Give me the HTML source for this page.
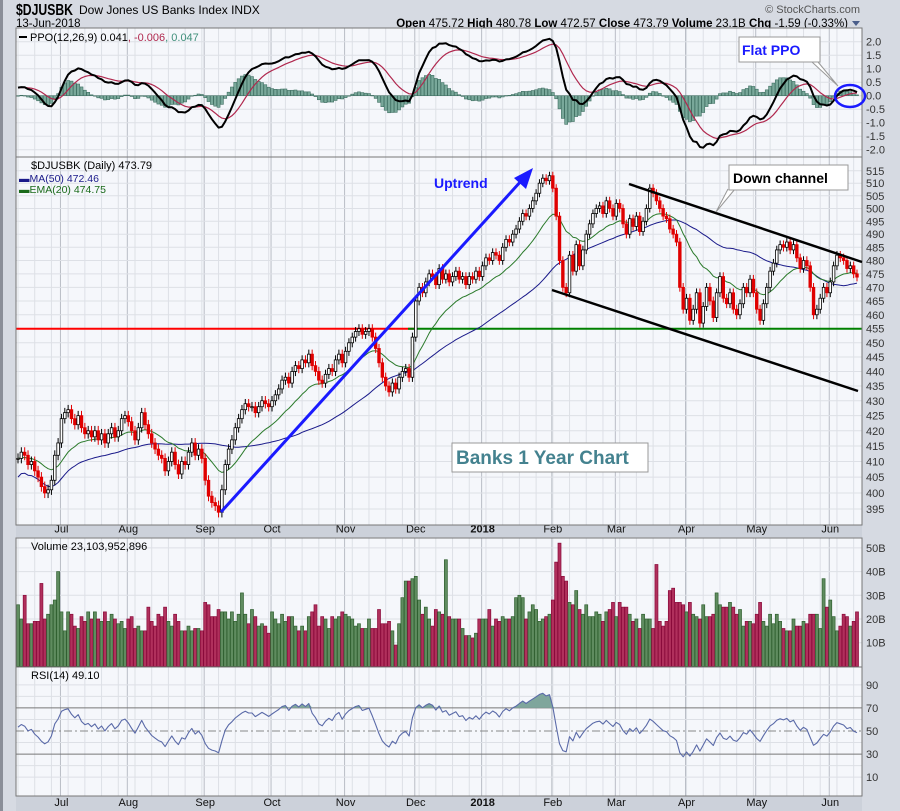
<!DOCTYPE html>
<html><head><meta charset="utf-8"><style>
html,body{margin:0;padding:0;background:#d6dae2;}
svg{display:block;font-family:"Liberation Sans",sans-serif;}
</style></head><body>
<svg id="c" width="900" height="811" viewBox="0 0 900 811" xmlns="http://www.w3.org/2000/svg">
<rect x="0" y="0" width="900" height="811" fill="#d6dae2"/>
<rect x="0" y="0" width="3" height="811" fill="#8a8e98"/>
<text x="16" y="15" font-size="16" font-weight="bold" fill="#000" textLength="57" lengthAdjust="spacingAndGlyphs">$DJUSBK</text>
<text x="79" y="14" font-size="12" fill="#000">Dow Jones US Banks Index  INDX</text>
<text x="16" y="27" font-size="11.5" fill="#000">13-Jun-2018</text>
<text x="860" y="13" font-size="11" fill="#555" text-anchor="end">© StockCharts.com</text>
<text x="848" y="27" font-size="11.5" fill="#000" text-anchor="end"><tspan font-weight="bold">Open</tspan> 475.72  <tspan font-weight="bold">High</tspan> 480.78  <tspan font-weight="bold">Low</tspan> 472.57  <tspan font-weight="bold">Close</tspan> 473.79  <tspan font-weight="bold">Volume</tspan> 23.1B  <tspan font-weight="bold">Chg</tspan> -1.59 (-0.33%)</text>
<path d="M852,21 L860,21 L856,26 Z" fill="#4a5e8a"/>
<g id="g"></g>
</svg>
<script>
const closesByMonth = [
[411,413,412,409,410,407,405,402,400,401,404,412,416],
[424,426,427,424,422,425,421,419,420,418,420,417,419,416,419,421,418,420,424,425],
[423,420,417,421,426,422,419,416,414,412,411,407,410,413,409,406,410,409,413,416,412,414,411],
[404,399,397,396,394,401,409,414,417,421,424,427,429,428,428,426,428,430,429,428],
[430,432,434,437,438,436,440,442,441,444,443,446,442,440,437,436,439,441,440,444,446,443],
[447,450,452,454,455,453,454,455,452,448,443,438,435,433,436,434,438,440,441,438,452],
[465,470,468,472,475,474,471,477,473,475,472,474,476,473,474,471,474,473,476,474],
[478,481,480,483,482,480,485,488,487,490,492,495,498,497,500,503,506,510,512,511,513],
[508,497,480,470,468,482,476,486,478,484,490,494,498,500,501,498,503,500,497],
[502,500,494,490,496,493,497,491,495,500,508,506,503,500,497,496,492,490,487,470,462],
[466,458,462,468,457,463,470,465,459,468,474,466,464,468,462,460,464,470,468,473,468],
[462,458,464,470,476,479,484,486,485,487,484,486,481,477,480,478,470,460,462,466,470,468],
[472,478,482,481,480,477,478,475,473.79]
];
const volumesByMonth = [
[26,20,30,18,18,19,19,35,20,22,26,28,40],
[23,15,23,22,17,16,21,19,23,20,23,20,19,23,19,22,20,18,19,16],
[20,21,16,17,15,15,25,19,17,22,21,25,19,17,22,19,15,15,17,15,16,16,15],
[27,26,21,21,24,23,23,20,23,19,22,31,22,18,24,21,17,18,17,14],
[23,20,18,22,19,21,21,17,15,17,15,21,23,26,17,21,20,16,21,20,21,23],
[22,21,20,17,18,16,16,20,16,16,24,18,18,19,15,9,18,29,36,36,37],
[38,28,22,25,20,17,24,23,22,45,21,20,20,20,16,13,13,12,14,20],
[20,20,24,17,20,19,21,20,20,21,29,30,29,20,23,26,24,19,20,21,22],
[28,44,52,38,36,27,26,32,24,22,26,21,21,23,22,19,23,24,27],
[21,27,25,25,22,19,20,16,22,20,20,16,43,19,17,19,32,33,27,27,26],
[23,27,22,21,20,26,21,21,22,31,26,25,25,27,25,22,24,17,19,19,18],
[22,27,19,17,22,18,22,19,16,15,15,20,17,17,19,18,22,22,22,16,37,25],
[28,21,15,17,22,21,17,19,23]
];
const monthLabels = ['Jul','Aug','Sep','Oct','Nov','Dec','2018','Feb','Mar','Apr','May','Jun'];
const priceTicks = [395,400,405,410,415,420,425,430,435,440,445,450,455,460,465,470,475,480,485,490,495,500,505,510,515];
const ppoTicks = [-2.0,-1.5,-1.0,-0.5,0.0,0.5,1.0,1.5,2.0];
const volTicks = [10,20,30,40,50];
const rsiTicks = [10,30,50,70,90];

const closes = [].concat(...closesByMonth);
const volumes = [].concat(...volumesByMonth);
const N = closes.length;
const monthStarts = [];
{let acc=0; for(let m=0;m<closesByMonth.length-1;m++){acc+=closesByMonth[m].length; monthStarts.push(acc);} }

const NS='http://www.w3.org/2000/svg';
const G=document.getElementById('g');
function mk(tag,attrs,parent){const e=document.createElementNS(NS,tag);for(const k in attrs)e.setAttribute(k,attrs[k]);(parent||G).appendChild(e);return e;}

const L=16,R=862;
const X=i=>18+i*(839/(N-1));
const yPrice=p=>328.7-(Math.log(p)-Math.log(455))*1275;
const yPPO=v=>95.7-v*27;
const yVol=v=>666.4-v*2.37;
const yRSI=v=>731-(v-50)*1.154;

const panels=[['ppo-panel',28,157],['price-panel',157,525],['volume-panel',538,667],['rsi-panel',667,796]];
panels.forEach(p=>{
  const r=mk('rect',{x:L,y:p[1],width:R-L,height:p[2]-p[1],fill:'#f5f7fb'});
  
  
});
panels.forEach(p=>{
  for(let i=0;i<N;i+=5){const l=mk('line',{x1:X(i),x2:X(i),y1:p[1],y2:p[2],stroke:'#dde0e6','stroke-width':1});
    
    }
  monthStarts.forEach(i=>{const l=mk('line',{x1:X(i)-1,x2:X(i)-1,y1:p[1],y2:p[2],stroke:'#b9bdc6','stroke-width':1});
    
    });
});
priceTicks.forEach(t=>{const y=yPrice(t);
  const l=mk('line',{x1:L,x2:R,y1:y,y2:y,stroke:'#dde0e6'});
  
  
  const tx=mk('text',{x:R+4,y:y+4,'font-size':11,fill:'#333'});tx.textContent=t;
  
  });
ppoTicks.forEach(t=>{const y=yPPO(t);
  const l=mk('line',{x1:L,x2:R,y1:y,y2:y,stroke:'#dde0e6'});
  
  
  const tx=mk('text',{x:R+4,y:y+4,'font-size':11,fill:'#333'});tx.textContent=t.toFixed(1);
  
  });
volTicks.forEach(t=>{const y=yVol(t);
  const l=mk('line',{x1:L,x2:R,y1:y,y2:y,stroke:'#dde0e6'});
  
  
  const tx=mk('text',{x:R+4,y:y+4,'font-size':11,fill:'#333'});tx.textContent=t+'B';
  
  });
rsiTicks.forEach(t=>{const y=yRSI(t);
  const l=mk('line',{x1:L,x2:R,y1:y,y2:y,stroke:(t==30||t==70)?'#777':(t==50?'#888':'#dde0e6'),'stroke-dasharray':t==50?'8,3,2,3':'none'});
  
  
  const tx=mk('text',{x:R+4,y:y+4,'font-size':11,fill:'#333'});tx.textContent=t;
  
  });
[20,40,60,80].forEach(t=>{const y=yRSI(t);const l=mk('line',{x1:L,x2:R,y1:y,y2:y,stroke:'#dde0e6'});
  
  });

[[525,537,532.5],[796,811,806]].forEach(s=>{
  const r=mk('rect',{x:L,y:s[0],width:R-L,height:s[1]-s[0],fill:'#ccd1da'});
  
  
  monthStarts.forEach((i,k)=>{const tx=mk('text',{x:X(i),y:s[2],'font-size':11,fill:'#111','text-anchor':'middle','font-weight':monthLabels[k]=='2018'?'bold':'normal'});
    tx.textContent=monthLabels[k];
    
    });
});

function ema(arr,n){const k=2/(n+1);const o=[];arr.forEach((v,i)=>o.push(i?v*k+o[i-1]*(1-k):v));return o;}
const e12=ema(closes,12),e26=ema(closes,26);
const ppo=closes.map((c,i)=>(e12[i]-e26[i])/e26[i]*100+0.3*Math.exp(-i/15));
const sig=ema(ppo,9);
const hist=ppo.map((v,i)=>v-sig[i]);
const ma50=closes.map((c,i)=>{const s=closes.slice(Math.max(0,i-49),i+1);return s.reduce((a,b)=>a+b,0)/s.length-(i<50?(50-i)*0.12:0);});
const ema20=ema(closes,20);
const rsi=[];{let ag=1.6,al=1.4;for(let i=0;i<N;i++){if(i==0){rsi.push(100-100/(1+ag/al));continue;}const d=closes[i]-closes[i-1];const g=Math.max(d,0),l=Math.max(-d,0);
  ag=(ag*13+g)/14;al=(al*13+l)/14;rsi.push(al==0?100:100-100/(1+ag/al));}}

hist.forEach((h,i)=>{const y0=yPPO(0),y1=yPPO(h);
  const b=mk('rect',{x:X(i)-1.5,y:Math.min(y0,y1),width:3,height:Math.max(0.5,Math.abs(y1-y0)),fill:'#79a89a',stroke:'#3f6f62','stroke-width':0.6});
  
  });
function line(arr,yf,color,w,name){const d=arr.map((v,i)=>(i?'L':'M')+X(i).toFixed(1)+','+yf(v).toFixed(1)).join('');
  const p=mk('path',{d:d,fill:'none',stroke:color,'stroke-width':w,'stroke-linejoin':'round'});
  
  return p;}
line(sig,yPPO,'#b0284e',1.2,'ppo-signal-line');
line(ppo,yPPO,'#000',2,'ppo-line');

{const r=mk('line',{x1:L,x2:414,y1:yPrice(455),y2:yPrice(455),stroke:'#ff0000','stroke-width':2});
 
 
 const g=mk('line',{x1:408,x2:R,y1:yPrice(455),y2:yPrice(455),stroke:'#008000','stroke-width':2});
 
 }
line(ma50,yPrice,'#1a1a8a',1,'ma50-line');
line(ema20,yPrice,'#2a7a2a',1,'ema20-line');
closes.forEach((c,i)=>{const o=i?closes[i-1]:c;const up=c>=o;const hi=Math.max(o,c)+1.6,lo=Math.min(o,c)-1.6;
  const col=up?'#000':'#e00000';
  const w=mk('line',{x1:X(i),x2:X(i),y1:yPrice(hi),y2:yPrice(lo),stroke:col,'stroke-width':1});
  
  
  const yt=yPrice(Math.max(o,c)),yb=yPrice(Math.min(o,c));
  const b=mk('rect',{x:X(i)-1.3,y:yt,width:2.6,height:Math.max(1,yb-yt),fill:up?'#fff':'#e00000',stroke:col,'stroke-width':0.8});
  
  });
volumes.forEach((v,i)=>{const up=i==0||closes[i]>=closes[i-1];
  const b=mk('rect',{x:X(i)-1.5,y:yVol(v),width:3,height:yVol(0)-yVol(v),fill:up?'#5f8c5f':'#b0305c',stroke:up?'#2f5f2f':'#8a0a3a','stroke-width':0.7});
  
  });
{const pts=rsi.map((v,i)=>X(i).toFixed(1)+','+yRSI(Math.max(70,v)).toFixed(1));
 const a=mk('path',{d:'M'+X(0)+','+yRSI(70)+'L'+pts.join('L')+'L'+X(N-1)+','+yRSI(70)+'Z',fill:'#7fa69c'});
 
 }
line(rsi,yRSI,'#5a6aa8',1.1,'rsi-line');

panels.forEach(p=>{const r=mk('rect',{x:L,y:p[1],width:R-L,height:p[2]-p[1],fill:'none',stroke:'#777','stroke-width':1});
  
  });

function txt(x,y,s,size,fill,name,weight){const t=mk('text',{x:x,y:y,'font-size':size,fill:fill,'font-weight':weight||'normal'});t.textContent=s;
  
  return t;}
{const t=mk('text',{x:30,y:41,'font-size':11,fill:'#000'});
 t.innerHTML='PPO(12,26,9) 0.041<tspan fill="#b0284e">, -0.006</tspan><tspan fill="#3f8f7a">, 0.047</tspan>';
 
 
 const s=mk('line',{x1:19,x2:27,y1:37,y2:37,stroke:'#000','stroke-width':2});
 
 }
txt(31,169,'$DJUSBK (Daily) 473.79',11,'#000','price-legend');
txt(19,182,'▬MA(50) 472.46',10.5,'#1a1a8a','ma50-legend');
txt(19,193,'▬EMA(20) 474.75',10.5,'#1a6a1a','ema20-legend');
txt(31,550,'Volume 23,103,952,896',11,'#000','volume-legend');
txt(31,679,'RSI(14) 49.10',11,'#000','rsi-legend');

{const u=mk('line',{x1:221,y1:512,x2:522,y2:180,stroke:'#1a1aff','stroke-width':3});
 
 
 const h=mk('path',{d:'M533,168 L514,178 L526,189 Z',fill:'#1a1aff'});
 
 
 txt(434,188,'Uptrend',14,'#1a1aff','uptrend-label','bold');
 const c1=mk('line',{x1:629,y1:184,x2:862,y2:262,stroke:'#000','stroke-width':2.5});
 
 
 const c2=mk('line',{x1:552,y1:290,x2:858,y2:391,stroke:'#000','stroke-width':2.5});
 
 
 const p1=mk('path',{d:'M728,189 L716,212 L735,189',fill:'#fff',stroke:'#999'});
 
 
 const b1=mk('rect',{x:729,y:165,width:119,height:25,fill:'#fff',stroke:'#999'});
 
 
 txt(733,183,'Down channel',14,'#000','down-channel-label','bold');
 const b2=mk('rect',{x:452,y:443,width:196,height:29,fill:'#fff',stroke:'#999'});
 
 
 txt(456,464,'Banks 1 Year Chart',19,'#44828f','banks-title-label','bold');
 const p2=mk('path',{d:'M812,62 L838,86 L818,62',fill:'#fff',stroke:'#999'});
 
 
 const b3=mk('rect',{x:739,y:37,width:81,height:25,fill:'#fff',stroke:'#999'});
 
 
 txt(742,55,'Flat PPO',14,'#1a1aff','flat-ppo-label','bold');
 const e=mk('ellipse',{cx:850,cy:96,rx:15,ry:11,fill:'none',stroke:'#1a1aff','stroke-width':2.5});
 
 }
</script>
</body></html>
